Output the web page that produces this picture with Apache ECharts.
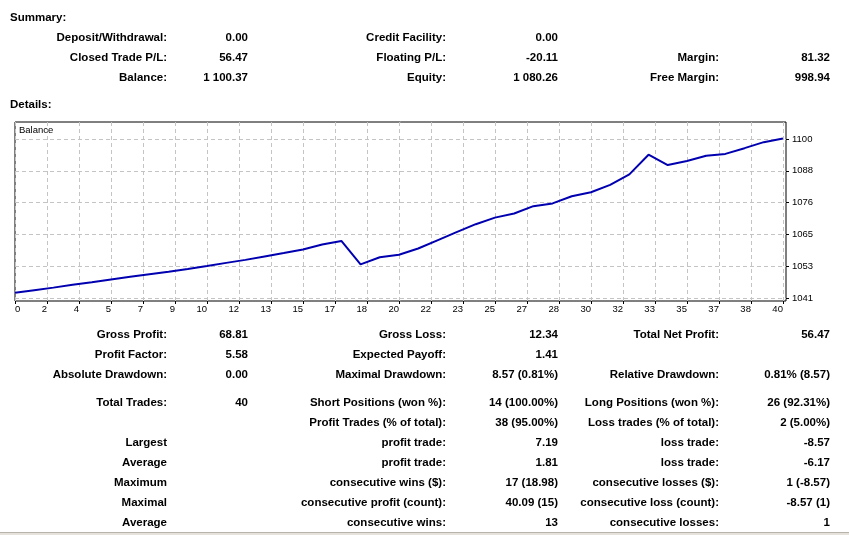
<!DOCTYPE html>
<html>
<head>
<meta charset="utf-8">
<script src="https://cdn.jsdelivr.net/npm/echarts@6/dist/echarts.min.js"></script>
<style>
  html, body { margin:0; padding:0; background:#fff; }
  #wrap { position:relative; width:849px; height:535px; overflow:hidden; background:#fff; }
  #chart { position:absolute; left:0; top:0; width:849px; height:535px; }
  .cell { position:absolute; white-space:nowrap; font-family:'Liberation Sans', Arial, sans-serif;
          font-weight:bold; font-size:11.5px; line-height:14px; color:#000; text-align:right; }
  .head { position:absolute; white-space:nowrap; font-family:'Liberation Sans', Arial, sans-serif;
          font-weight:bold; font-size:11.5px; line-height:14px; color:#000; }
  #sep1 { position:absolute; left:0; top:532px; width:849px; height:1px; background:#b8b4ac; }
  #sep2 { position:absolute; left:0; top:533px; width:849px; height:2px; background:#e6e3dc; }
</style>
</head>
<body>
<div id="wrap">
  <div id="chart"></div>
  <div id="sep1"></div><div id="sep2"></div>
</div>
<script>
// ---------------- data ----------------
const trades = [0,1,2,3,4,5,6,7,8,9,10,11,12,13,14,15,16,17,18,19,20,
                21,22,23,24,25,26,27,28,29,30,31,32,33,34,35,36,37,38,39,40];
const balance = [1043.90,1044.85,1045.80,1046.85,1047.80,1048.80,1049.75,1050.70,1051.60,1052.60,
                 1053.70,1054.85,1055.95,1057.20,1058.45,1059.75,1061.60,1062.88,1054.31,1056.90,
                 1057.80,1060.10,1063.10,1066.10,1069.00,1071.40,1072.90,1075.60,1076.60,1079.20,
                 1080.70,1083.40,1087.21,1094.40,1090.63,1092.10,1094.00,1094.70,1096.80,1099.00,
                 1100.37];
const xLabels = ['0','2','4','5','7','9','10','12','13','15','17','18','20','22','23','25','27','28','30','32','33','35','37','38','40'];
const yTicks = [1041.90,1053.55,1065.20,1076.85,1088.50,1100.15];
const yLabels = ['1041','1053','1065','1076','1088','1100'];

const summaryTitle = 'Summary:';
const detailsTitle = 'Details:';
const summaryRows = [
  ['Deposit/Withdrawal:','0.00','Credit Facility:','0.00','',''],
  ['Closed Trade P/L:','56.47','Floating P/L:','-20.11','Margin:','81.32'],
  ['Balance:','1 100.37','Equity:','1 080.26','Free Margin:','998.94']
];
const detailRows = [
  ['Gross Profit:','68.81','Gross Loss:','12.34','Total Net Profit:','56.47'],
  ['Profit Factor:','5.58','Expected Payoff:','1.41','',''],
  ['Absolute Drawdown:','0.00','Maximal Drawdown:','8.57 (0.81%)','Relative Drawdown:','0.81% (8.57)'],
  ['Total Trades:','40','Short Positions (won %):','14 (100.00%)','Long Positions (won %):','26 (92.31%)'],
  ['','','Profit Trades (% of total):','38 (95.00%)','Loss trades (% of total):','2 (5.00%)'],
  ['Largest','','profit trade:','7.19','loss trade:','-8.57'],
  ['Average','','profit trade:','1.81','loss trade:','-6.17'],
  ['Maximum','','consecutive wins ($):','17 (18.98)','consecutive losses ($):','1 (-8.57)'],
  ['Maximal','','consecutive profit (count):','40.09 (15)','consecutive loss (count):','-8.57 (1)'],
  ['Average','','consecutive wins:','13','consecutive losses:','1']
];

// ---------------- layout ----------------
const W = 849;
const colRight = [167, 248, 446, 558, 719, 830];
const summaryY = [37, 57, 77];
const detailY = [334, 354, 374, 402, 422, 442, 462, 482, 502, 522];

const wrap = document.getElementById('wrap');
function addHead(text, x, yc) {
  const d = document.createElement('div');
  d.className = 'head'; d.textContent = text;
  d.style.left = x + 'px'; d.style.top = (yc - 7) + 'px';
  wrap.appendChild(d);
}
function addRows(rows, ys) {
  rows.forEach((r, i) => {
    r.forEach((t, c) => {
      if (!t) return;
      const d = document.createElement('div');
      d.className = 'cell'; d.textContent = t;
      d.style.right = (W - colRight[c]) + 'px';
      d.style.top = (ys[i] - 7) + 'px';
      wrap.appendChild(d);
    });
  });
}
addHead(summaryTitle, 10, 17);
addHead(detailsTitle, 10, 104);
addRows(summaryRows, summaryY);
addRows(detailRows, detailY);

// ---------------- chart ----------------
const lastTrade = trades[trades.length - 1];
const xTicks = xLabels.map((_, k) => k * lastTrade / (xLabels.length - 1));
const X_MAX = 40.16;
const Y_MIN = 1040.91, Y_MAX = 1106.37;
const FONT = "'Liberation Sans', Arial, sans-serif";
const gridLine = { show: true, lineStyle: { color: '#c4c4c4', type: [4, 3], width: 1 } };

function labelFor(ticks, labels) {
  return function (v) {
    const i = ticks.findIndex(t => Math.abs(t - v) < 1e-6);
    return i >= 0 ? labels[i] : '';
  };
}

const chart = echarts.init(document.getElementById('chart'), null, { renderer: 'canvas' });
chart.setOption({
  animation: false,
  backgroundColor: 'transparent',
  title: {
    text: 'Balance', left: 19, top: 125, padding: 0,
    textStyle: { fontSize: 9.5, fontWeight: 'normal', color: '#000', fontFamily: FONT }
  },
  grid: { left: 15, top: 122, width: 771, height: 179, show: true,
          borderColor: '#000', borderWidth: 1, backgroundColor: '#fff' },
  xAxis: {
    type: 'value', min: 0, max: X_MAX,
    axisLine: { show: false, onZero: false },
    axisTick: { show: true, customValues: xTicks, length: 3, lineStyle: { color: '#000' } },
    axisLabel: { customValues: xTicks, formatter: labelFor(xTicks, xLabels),
                 align: 'right', alignMinLabel: 'left', margin: 3,
                 fontSize: 9.5, color: '#000', fontFamily: FONT },
    splitLine: gridLine
  },
  yAxis: {
    type: 'value', position: 'right', min: Y_MIN, max: Y_MAX,
    axisLine: { show: false, onZero: false },
    axisTick: { show: true, customValues: yTicks, length: 3, lineStyle: { color: '#000' } },
    axisLabel: { customValues: yTicks, formatter: labelFor(yTicks, yLabels), margin: 6,
                 fontSize: 9.5, color: '#000', fontFamily: FONT },
    splitLine: gridLine
  },
  series: [{
    type: 'line', silent: true, showSymbol: false, smooth: false,
    data: trades.map((t, i) => [t, balance[i]]),
    lineStyle: { color: '#0000b0', width: 2 }
  }]
});
</script>
</body>
</html>
